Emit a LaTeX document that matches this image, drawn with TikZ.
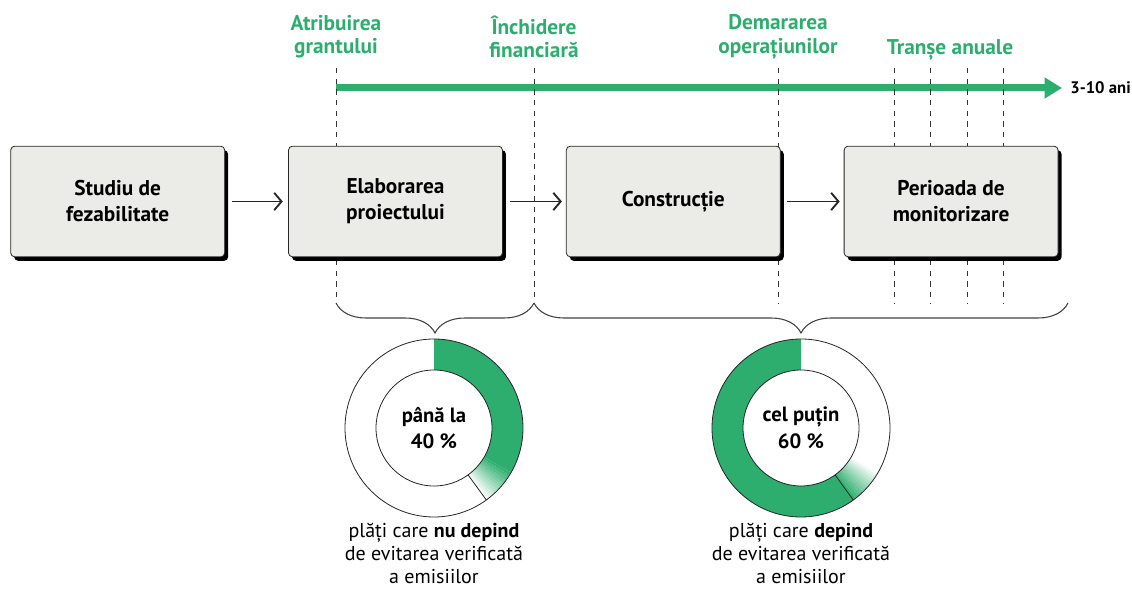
\documentclass[tikz,border=0pt]{standalone}
\usepackage{fontspec}
\setmainfont{PT Sans}
\usetikzlibrary{calc}
\usetikzlibrary{positioning}
\usetikzlibrary{shadows}
\usetikzlibrary{arrows.meta}
\usetikzlibrary{decorations.pathreplacing}

\definecolor{grantgreen}{RGB}{45,174,110}
\definecolor{stagegray}{RGB}{235,235,231}

\newcommand{\ringR}{66.75pt}
\newcommand{\ringr}{43.5pt}
% one piece of a ring: [options]{centre}{start angle}{end angle}
\newcommand{\ringseg}[4][]{\fill[#1] ($(#2)+(#3:\ringR)$) arc[start angle=#3, end angle=#4, radius=\ringR] -- ($(#2)+(#4:\ringr)$) arc[start angle=#4, end angle=#3, radius=\ringr] -- cycle;}

\begin{document}
\begin{tikzpicture}[
		x=0.75pt, y=0.75pt,
		stage/.style={
			draw=black!85,
			line width=0.6pt,
			fill=stagegray,
			rounded corners=3pt,
			rectangle,
			minimum width=160.5pt,
			minimum height=83pt,
			align=center,
			font=\fontsize{16}{19.5}\selectfont\bfseries,
			drop shadow={shadow xshift=2.6pt, shadow yshift=-3pt, fill=black, opacity=1},
			node distance=47.25pt},
		flow/.style={
			line width=1.1pt,
			draw=black!85,
			-{Straight Barb[length=5.5pt,width=13pt,line width=1.4pt]}},
		timeline/.style={
			draw=grantgreen,
			line width=5.25pt,
			-{Triangle[length=13pt,width=15pt]}},
		milestone/.style={
			text=grantgreen,
			align=center,
			font=\fontsize{16}{17.5}\selectfont\bfseries},
		mark_line/.style={
			draw=black!80,
			line width=0.5pt,
			dash pattern=on 4pt off 4pt},
		brace_line/.style={
			draw=black!75,
			line width=0.8pt,
			decorate,
			decoration={brace, mirror, amplitude=22.5pt}},
		ring_line/.style={
			draw=black!85,
			line width=0.6pt},
		ring_text/.style={
			align=center,
			font=\fontsize{15.5}{20}\selectfont\bfseries},
		caption/.style={
			align=center,
			anchor=north,
			inner sep=0pt,
			font=\fontsize{15}{17}\selectfont},
		]

		\useasboundingbox (0,0) rectangle (1132,-591);

		%Timeline
		\coordinate (tl_start) at (336,-88);
		\coordinate (tl_end) at (1062,-88);
		\draw[timeline] (tl_start) -- (tl_end);
		\node (tl_label) at (1131,-88) [anchor=east, inner sep=0pt, font=\fontsize{12.5}{15}\selectfont\bfseries] {3-10 ani};

		%Milestones
		\foreach \mk/\x in {grant/336, close/534, start/778, t1/894, t2/930.5, t3/967, t4/1003}{
			\coordinate (\mk_top) at (\x,-68);
			\coordinate (\mk_bot) at (\x,-303);
			\draw[mark_line] (\mk_top) -- (\mk_bot);
		}
		\coordinate (end_bot) at (1068,-303);
		\node (grant_lbl) at (336,-37) [milestone] {Atribuirea\\grantului};
		\node (close_lbl) at (534,-37) [milestone] {Închidere\\financiară};
		\node (start_lbl) at (778,-37) [milestone] {Demararea\\operațiunilor};
		\node (tranche_lbl) at (950,-50) [milestone] {Tranșe anuale};

		%Stages
		\node (feas)[stage] at (117.7,-201.5) {Studiu de\\fezabilitate};
		\node (design)[stage, right = of feas] {Elaborarea\\proiectului};
		\node (build)[stage, right = of design] {Construcție};
		\node (monitor)[stage, right = of build] {Perioada de\\monitorizare};
		\draw[flow] ([xshift=5pt]feas.east) -- ([xshift=-4pt]design.west);
		\draw[flow] ([xshift=5pt]design.east) -- ([xshift=-3pt]build.west);
		\draw[flow] ([xshift=5pt]build.east) -- ([xshift=-3pt]monitor.west);

		%Braces
		\draw[brace_line] (grant_bot) -- (close_bot);
		\draw[brace_line] (close_bot) -- (end_bot);

		%Up to 40 %
		\coordinate (d1) at (434,-428);
		\ringseg[grantgreen]{d1}{90}{-30}
		\foreach \i in {0,...,11}{
			\pgfmathsetmacro\aa{-30-2*\i}
			\pgfmathsetmacro\ab{-32-2*\i}
			\pgfmathsetmacro\op{1-(\i+0.5)/12}
			\ringseg[grantgreen, opacity=\op]{d1}{\aa}{\ab}
		}
		\draw[ring_line] (d1) circle[radius=\ringR];
		\draw[ring_line] (d1) circle[radius=\ringr];
		\draw[ring_line] ($(d1)+(-54:\ringr)$) -- ($(d1)+(-54:\ringR)$);
		\node (d1_txt) at (d1) [ring_text] {până la\\40 \%};
		\node (d1_cap) at (434,-523) [caption] {plăți care \textbf{nu depind}\\de evitarea verificată\\a emisiilor};

		%At least 60 %
		\coordinate (d2) at (801,-428);
		\ringseg[grantgreen]{d2}{90}{306}
		\foreach \i in {0,...,11}{
			\pgfmathsetmacro\aa{306+2*\i}
			\pgfmathsetmacro\ab{308+2*\i}
			\pgfmathsetmacro\op{1-(\i+0.5)/12}
			\ringseg[grantgreen, opacity=\op]{d2}{\aa}{\ab}
		}
		\draw[ring_line] (d2) circle[radius=\ringR];
		\draw[ring_line] (d2) circle[radius=\ringr];
		\draw[ring_line] ($(d2)+(-54:\ringr)$) -- ($(d2)+(-54:\ringR)$);
		\node (d2_txt) at (d2) [ring_text] {cel puțin\\60 \%};
		\node (d2_cap) at (801,-523) [caption] {plăți care \textbf{depind}\\de evitarea verificată\\a emisiilor};

	\end{tikzpicture}
\end{document}
